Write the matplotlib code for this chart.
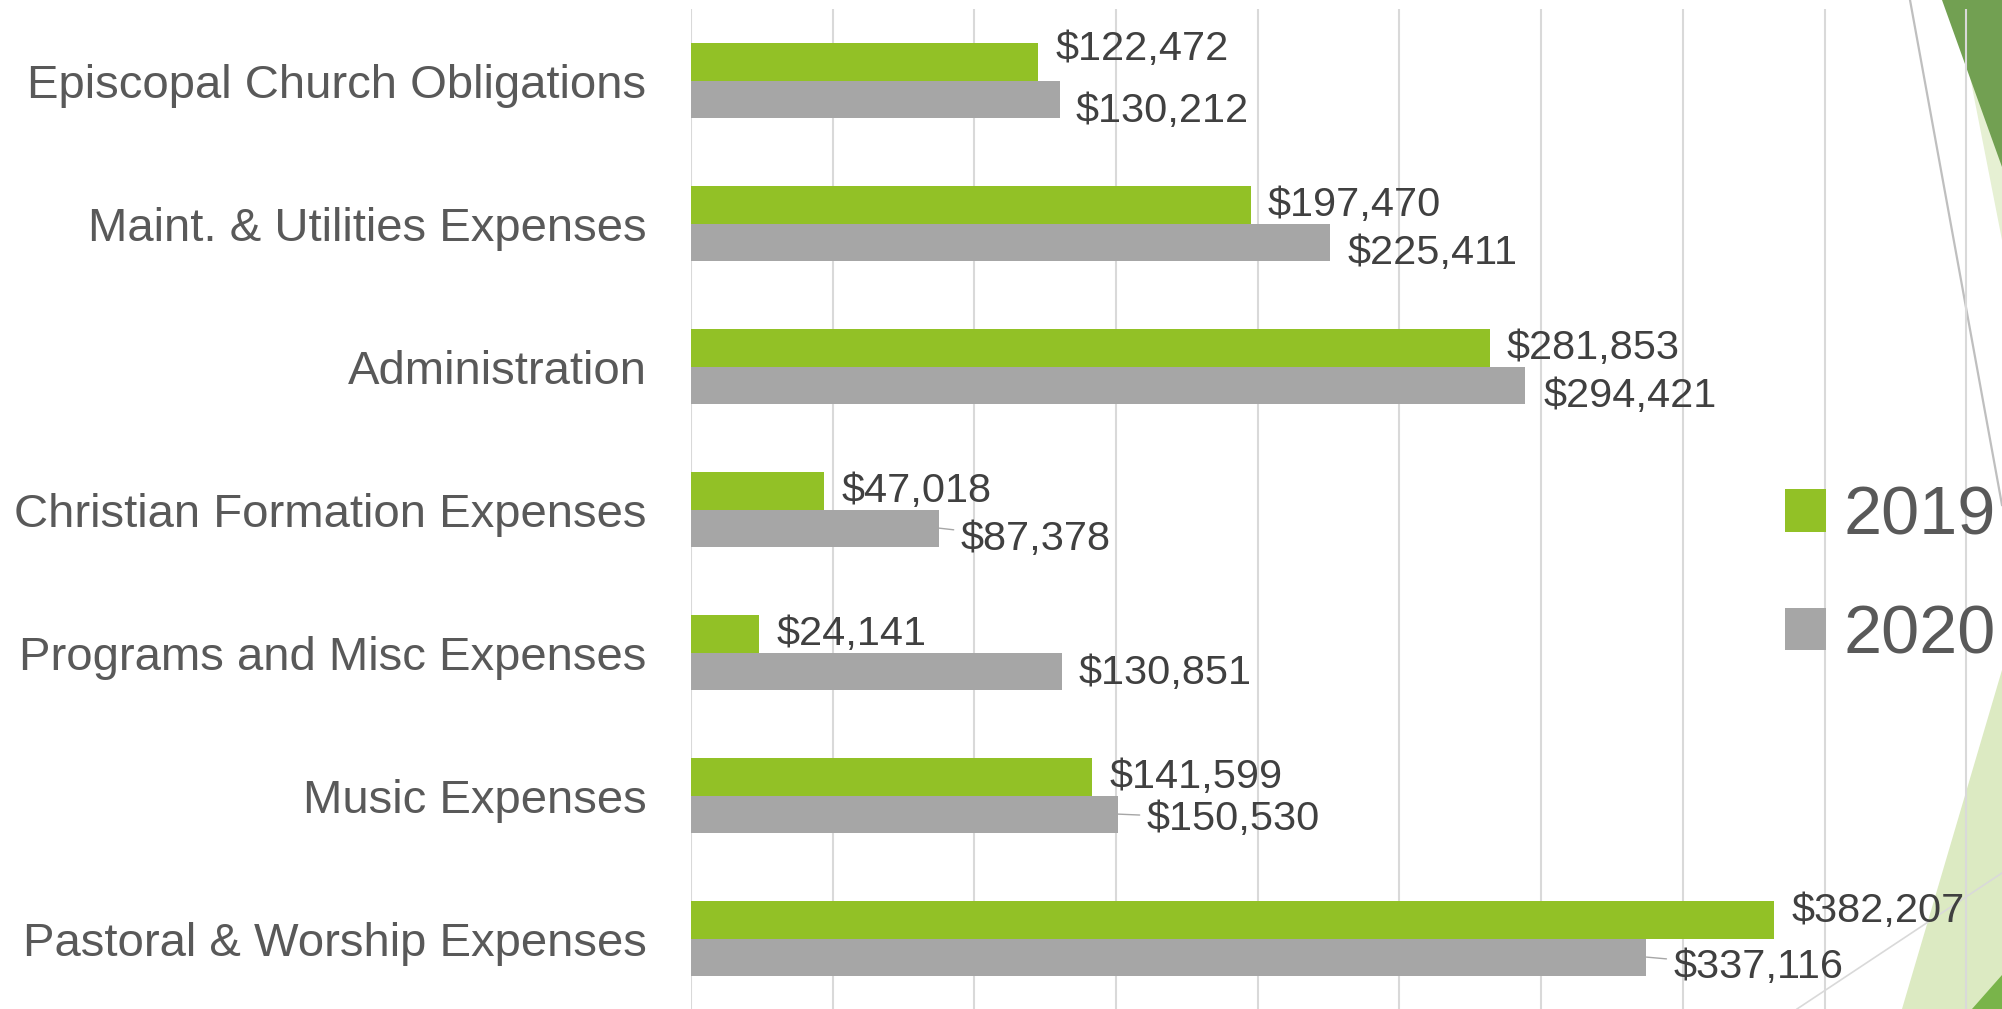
import matplotlib.pyplot as plt
from matplotlib import font_manager
from matplotlib.patches import Polygon
from matplotlib.lines import Line2D
import numpy as np

categories = [
    "Episcopal Church Obligations",
    "Maint. & Utilities Expenses",
    "Administration",
    "Christian Formation Expenses",
    "Programs and Misc Expenses",
    "Music Expenses",
    "Pastoral & Worship Expenses",
]
values_2019 = [122472, 197470, 281853, 47018, 24141, 141599, 382207]
values_2020 = [130212, 225411, 294421, 87378, 130851, 150530, 337116]
series_names = ["2019", "2020"]

GREEN = "#92C126"
GRAY = "#A6A6A6"
W, H = 2002, 1009

# narrow font if we have it, otherwise plain Liberation Sans a bit smaller
available = {f.name for f in font_manager.fontManager.ttflist}
if "Liberation Sans Narrow" in available:
    FONT, k = "Liberation Sans Narrow", 1.0
else:
    FONT, k = "Liberation Sans", 0.82
plt.rcParams["font.family"] = [FONT, "DejaVu Sans"]

fig = plt.figure(figsize=(W / 100, H / 100), dpi=100)
fig.patch.set_facecolor("white")


def px(x, y):
    # pixel (from top-left) -> figure fraction
    return (x / W, 1 - y / H)


# theme decorations on the right edge
deco = [
    ([(1955, 0), (2002, 0), (2002, 240)], "#E6F0D3"),
    ([(1942, 0), (2002, 0), (2002, 167)], "#72A052"),
    ([(1902, 1009), (2002, 670), (2002, 1009)], "#DCEAC2"),
    ([(1972, 1009), (2002, 975), (2002, 1009)], "#79B44A"),
]
for pts, col in deco:
    fig.add_artist(Polygon([px(*p) for p in pts], closed=True, transform=fig.transFigure,
                           facecolor=col, edgecolor="none", zorder=-2))
for (p0, p1, col, lw) in [((1910, 0), (2002, 505), "#BFBFBF", 1.6),
                          ((1797, 1009), (2002, 873), "#D9D9D9", 1.2)]:
    a, b = px(*p0), px(*p1)
    fig.add_artist(Line2D([a[0], b[0]], [a[1], b[1]], transform=fig.transFigure,
                          color=col, lw=lw, zorder=-1))

# axes: 0 at x=691px, 50k per 141.7px; 7 categories spanning y 9..1010 px
xmax = 500000
left = 691 / W
width = xmax * (141.7 / 50000) / W
ax = fig.add_axes([left, (H - 1010) / H, width, 1001 / H])
ax.set_facecolor("none")

y = np.arange(len(categories))
h = 0.26
b19 = ax.barh(y - h / 2, values_2019, height=h, color=GREEN, label=series_names[0], zorder=3)
b20 = ax.barh(y + h / 2, values_2020, height=h, color=GRAY, label=series_names[1], zorder=3)

ax.set_xlim(0, xmax)
ax.set_ylim(len(categories) - 0.5, -0.5)
ax.set_xticks(np.arange(0, xmax + 1, 50000))
ax.xaxis.grid(True, color="#D9D9D9", lw=1.5, zorder=0)
ax.tick_params(axis="x", bottom=False, labelbottom=False)
ax.tick_params(axis="y", left=False, pad=28.5)
ax.set_yticks(y)
ax.set_yticklabels(categories, fontsize=41.5 * k, color="#595959")
for s in ax.spines.values():
    s.set_visible(False)

# data labels (offsets in pixels: right, up) - hand placed like the original
off_2019 = [(17, 13), (17, 0), (17, 0), (17, 0), (17, 0), (17, 0), (17, 9)]
off_2020 = [(16, -12), (18, -11), (18, -11), (22, -11), (17, -2), (29, -5), (27, -10)]
leader_2020 = [False, False, False, True, False, True, True]

for i in range(len(categories)):
    ax.annotate(f"${values_2019[i]:,}", (values_2019[i], y[i] - h / 2),
                xytext=off_2019[i], textcoords="offset pixels",
                ha="left", va="center", fontsize=36.4 * k, color="#404040", zorder=5)
    kw = {}
    if leader_2020[i]:
        kw["arrowprops"] = dict(arrowstyle="-", color="#A6A6A6", lw=1, shrinkA=3, shrinkB=0)
    ax.annotate(f"${values_2020[i]:,}", (values_2020[i], y[i] + h / 2),
                xytext=off_2020[i], textcoords="offset pixels",
                ha="left", va="center", fontsize=36.4 * k, color="#404040", zorder=5, **kw)

lx, ly = px(1785, 576)
ax.legend([b19, b20], series_names, loc="center left", bbox_to_anchor=(lx, ly),
          bbox_transform=fig.transFigure, frameon=False, fontsize=60 * k,
          handlelength=0.6, handleheight=0.57, handletextpad=0.26,
          labelspacing=0.8, borderpad=0, borderaxespad=0, labelcolor="#595959")

fig.savefig("out.png", dpi=100)
